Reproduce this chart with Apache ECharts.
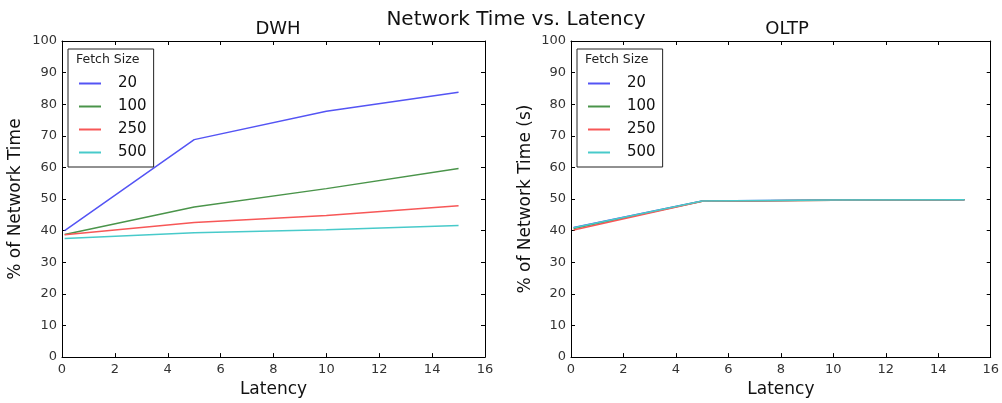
<!DOCTYPE html>
<html>
<head>
<meta charset="utf-8">
<script src="https://cdn.jsdelivr.net/npm/echarts@6/dist/echarts.min.js"></script>
<style>
  html, body { margin: 0; padding: 0; background: #fff; }
  #chart { width: 1002px; height: 403px; }
</style>
</head>
<body>
<div id="chart"></div>
<script>
// data
const latency = [0.1, 5, 10, 15]
const fetchSizes = ['20', '100', '250', '500']
const dwh20 = [40.0, 68.8, 77.8, 83.8]
const dwh100 = [38.8, 47.5, 53.3, 59.7]
const dwh250 = [38.7, 42.6, 44.8, 47.9]
const dwh500 = [37.5, 39.3, 40.3, 41.6]
const oltp20 = [41.0, 49.4, 49.7, 49.8]
const oltp100 = [40.7, 49.3, 49.6, 49.8]
const oltp250 = [40.2, 49.3, 49.6, 49.8]
const oltp500 = [40.9, 49.4, 49.7, 49.8]

const colors = ['#5454f4', '#4a944a', '#f75757', '#48caca']
const font = 'DejaVu Sans'

const chart = echarts.init(document.getElementById('chart'))

function pairs(ys) {
  return latency.map((x, i) => [x, ys[i]])
}

function xAxes(gridIndex) {
  let base = {
    gridIndex: gridIndex,
    type: 'value',
    min: 0,
    max: 16,
    interval: 2,
    splitLine: { show: false },
    axisLine: { onZero: false, lineStyle: { color: '#000', width: 1 } },
    axisTick: { inside: true, length: 4, lineStyle: { color: '#000' } }
  }
  return [
    Object.assign({}, base, {
      position: 'bottom',
      name: 'Latency',
      nameLocation: 'middle',
      nameGap: 22,
      nameTextStyle: { fontFamily: font, fontSize: 17, color: '#111' },
      axisLabel: { fontFamily: font, fontSize: 13, color: '#333', margin: 6 }
    }),
    Object.assign({}, base, { position: 'top', axisLabel: { show: false } })
  ]
}

function yAxes(gridIndex, name, gap) {
  let base = {
    gridIndex: gridIndex,
    type: 'value',
    min: 0,
    max: 100,
    interval: 10,
    splitLine: { show: false },
    axisLine: { onZero: false, lineStyle: { color: '#000', width: 1 } },
    axisTick: { inside: true, length: 4, lineStyle: { color: '#000' } }
  }
  return [
    Object.assign({}, base, {
      position: 'left',
      name: name,
      nameLocation: 'middle',
      nameGap: gap,
      nameTextStyle: { fontFamily: font, fontSize: 17, color: '#111' },
      axisLabel: { fontFamily: font, fontSize: 13, color: '#333', margin: 5 }
    }),
    Object.assign({}, base, { position: 'right', axisLabel: { show: false } })
  ]
}

function legend(left) {
  return {
    orient: 'vertical',
    left: left,
    top: 49,
    padding: [27, 7, 7, 11],
    borderColor: '#222',
    borderWidth: 1,
    backgroundColor: '#fff',
    itemWidth: 22,
    itemHeight: 2,
    itemGap: 8,
    icon: 'rect',
    data: fetchSizes,
    textStyle: { fontFamily: font, fontSize: 15, color: '#111', padding: [0, 0, 0, 12] }
  }
}

const dwh = [dwh20, dwh100, dwh250, dwh500]
const oltp = [oltp20, oltp100, oltp250, oltp500]
let series = []
dwh.forEach((ys, i) => {
  series.push({
    name: fetchSizes[i], type: 'line', xAxisIndex: 0, yAxisIndex: 0,
    data: pairs(ys), showSymbol: false, color: colors[i],
    lineStyle: { width: 1.5, color: colors[i] }
  })
})
oltp.forEach((ys, i) => {
  series.push({
    name: fetchSizes[i], type: 'line', xAxisIndex: 2, yAxisIndex: 2,
    data: pairs(ys), showSymbol: false, color: colors[i],
    lineStyle: { width: 1.5, color: colors[i] }
  })
})

const options = {
  backgroundColor: '#fff',
  animation: false,
  title: [
    { text: 'Network Time vs. Latency', left: 511, top: 5, textAlign: 'center',
      textStyle: { fontFamily: font, fontSize: 20, fontWeight: 'normal', color: '#111' } },
    { text: 'DWH', left: 273, top: 15, textAlign: 'center',
      textStyle: { fontFamily: font, fontSize: 18, fontWeight: 'normal', color: '#111' } },
    { text: 'OLTP', left: 782, top: 15, textAlign: 'center',
      textStyle: { fontFamily: font, fontSize: 18, fontWeight: 'normal', color: '#111' } }
  ],
  grid: [
    { left: 62, top: 41, width: 423, height: 321 },
    { left: 571, top: 41, width: 422, height: 321 }
  ],
  xAxis: xAxes(0).concat(xAxes(1)),
  yAxis: yAxes(0, '% of Network Time', 38).concat(yAxes(1, '% of Network Time (s)', 37)),
  legend: [legend(68), legend(577)],
  graphic: [
    { type: 'text', left: 76, top: 53, z: 100,
      style: { text: 'Fetch Size', fontFamily: font, fontSize: 12.5, fill: '#222' } },
    { type: 'text', left: 585, top: 53, z: 100,
      style: { text: 'Fetch Size', fontFamily: font, fontSize: 12.5, fill: '#222' } }
  ],
  series: series
}
chart.setOption(options)
</script>
</body>
</html>
